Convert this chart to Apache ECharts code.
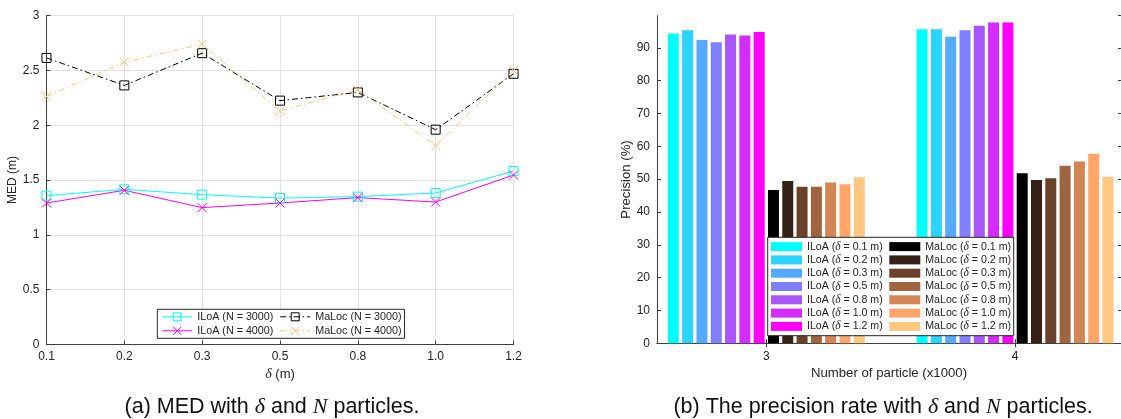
<!DOCTYPE html>
<html><head><meta charset="utf-8">
<script src="https://cdn.jsdelivr.net/npm/echarts@6/dist/echarts.min.js"></script>
<style>html,body{margin:0;padding:0;background:#fff}#c{width:1121px;height:419px}</style>
</head><body><div id="c"></div>
<script>
// ---- Data: (a) MED vs delta ----
const deltaLabels = ['0.1', '0.2', '0.3', '0.5', '0.8', '1.0', '1.2'];
const iloaMed3000 = [1.358, 1.416, 1.367, 1.336, 1.349, 1.382, 1.583];
const iloaMed4000 = [1.291, 1.407, 1.249, 1.291, 1.340, 1.300, 1.546];
const malocMed3000 = [2.615, 2.364, 2.658, 2.225, 2.300, 1.960, 2.470];
const malocMed4000 = [2.264, 2.576, 2.740, 2.130, 2.325, 1.815, 2.500];

// ---- Data: (b) precision vs number of particles ----
const particleCounts = [3, 4]; // x1000
const iloaPrec3000 = [94.4, 95.4, 92.4, 91.7, 94.1, 93.8, 94.8];
const iloaPrec4000 = [95.7, 95.7, 93.4, 95.4, 96.7, 97.7, 97.7];
const malocPrec3000 = [46.7, 49.4, 47.7, 47.7, 49.0, 48.4, 50.6];
const malocPrec4000 = [51.8, 49.7, 50.3, 54.1, 55.4, 57.7, 50.7];

const coolColors = ['#00FFFF', '#2AD4FF', '#55AAFF', '#8080FF', '#AA55FF', '#D42BFF', '#FF00FF'];
const copperColors = ['#000000', '#352115', '#6A422A', '#9F643F', '#D48555', '#FFA66A', '#FFC77F'];

const FONT = "'Liberation Sans', Arial, Helvetica, sans-serif";
const SERIF = "'Liberation Serif', 'DejaVu Serif', serif";
const TXT = '#262626';
const AX = '#404040';
const GRIDC = '#e2e2e2';

const chart = echarts.init(document.getElementById('c'), null, {renderer: 'canvas'});

const squarePath = 'path://M0,0L10,0L10,10L0,10Z';
const crossPath = 'path://M0,0L10,10M10,0L0,10';
const dashDot = [6, 3, 1.5, 3];

function lineSeries(name, data, color, symbol, dash) {
  return {
    type: 'line', name, data, xAxisIndex: 0, yAxisIndex: 0,
    symbol, symbolSize: 9, showAllSymbol: true,
    itemStyle: {color: 'rgba(0,0,0,0)', borderColor: color, borderWidth: 1},
    lineStyle: {color, width: 1, type: dash ? dashDot : 'solid'},
    emphasis: {disabled: true}, animation: false, z: 3
  };
}

const series = [
  lineSeries('ILoA (N = 3000)', iloaMed3000, '#00FFFF', squarePath, false),
  lineSeries('ILoA (N = 4000)', iloaMed4000, '#FF00FF', crossPath, false),
  lineSeries('MaLoc (N = 3000)', malocMed3000, '#000000', squarePath, true),
  lineSeries('MaLoc (N = 4000)', malocMed4000, '#FFC77F', crossPath, true)
];

const iloaNames = deltaLabels.map(d => 'ILoA (δ = ' + d + ' m)');
const malocNames = deltaLabels.map(d => 'MaLoc (δ = ' + d + ' m)');
deltaLabels.forEach((d, i) => {
  series.push({
    type: 'bar', name: iloaNames[i], xAxisIndex: 1, yAxisIndex: 1,
    data: particleCounts.map((p, j) => [p, [iloaPrec3000, iloaPrec4000][j][i]]),
    barWidth: 11, barGap: '30%', itemStyle: {color: coolColors[i]},
    emphasis: {disabled: true}, animation: false
  });
});
deltaLabels.forEach((d, i) => {
  series.push({
    type: 'bar', name: malocNames[i], xAxisIndex: 1, yAxisIndex: 1,
    data: particleCounts.map((p, j) => [p, [malocPrec3000, malocPrec4000][j][i]]),
    barWidth: 11, barGap: '30%', itemStyle: {color: copperColors[i]},
    emphasis: {disabled: true}, animation: false
  });
});

const legendText = {fontFamily: FONT, fontSize: 10.6, color: TXT, lineHeight: 12,
  rich: {i: {fontFamily: SERIF, fontStyle: 'italic', fontSize: 11.5, color: TXT, lineHeight: 12}}};
const deltaFmt = n => n.replace('δ', '{i|δ}');
const lineLegendStyle = {
  itemWidth: 30, itemHeight: 10, itemGap: 6.3, selectedMode: false, orient: 'horizontal',
  lineStyle: {width: 1}, itemStyle: {borderWidth: 1},
  textStyle: {fontFamily: FONT, fontSize: 10.75, color: TXT, lineHeight: 12}
};

const legends = [
  Object.assign({data: ['ILoA (N = 3000)', 'MaLoc (N = 3000)'], left: 157.3, top: 309.3,
   padding: [1.5, 3, 15.5, 4.4], borderColor: TXT, borderWidth: 1, backgroundColor: '#fff', z: 6}, lineLegendStyle),
  Object.assign({data: ['ILoA (N = 4000)', 'MaLoc (N = 4000)'], left: 161.7, top: 324.8,
   padding: 0, z: 7}, lineLegendStyle),
  {data: iloaNames, left: 767.7, top: 237.3, orient: 'vertical', icon: 'rect',
   itemWidth: 31, itemHeight: 9, itemGap: 1.3, padding: [3.3, 131, 3.3, 3.3],
   borderColor: TXT, borderWidth: 1, backgroundColor: '#fff', selectedMode: false,
   formatter: deltaFmt, textStyle: legendText, z: 6},
  {data: malocNames, left: 889.3, top: 240.6, orient: 'vertical', icon: 'rect',
   itemWidth: 31, itemHeight: 9, itemGap: 1.3, padding: 0, selectedMode: false,
   formatter: deltaFmt, textStyle: legendText, z: 7}
];

const option = {
  backgroundColor: '#fff',
  animation: false,
  textStyle: {fontFamily: FONT},
  grid: [
    {left: 46.5, right: 607.5, top: 15.7, bottom: 74.5, containLabel: false},
    {left: 657, right: 0, top: 15.7, bottom: 75.8, containLabel: false}
  ],
  legend: legends,
  xAxis: [
    {type: 'category', gridIndex: 0, data: deltaLabels, boundaryGap: false,
     axisLine: {show: true, lineStyle: {color: AX, width: 1}},
     axisTick: {show: true, inside: true, length: 4, lineStyle: {color: AX}},
     axisLabel: {fontSize: 12, color: TXT, margin: 6, fontFamily: FONT},
     splitLine: {show: true, lineStyle: {color: GRIDC, width: 1}},
     name: '{i|δ} (m)', nameLocation: 'middle', nameGap: 21,
     nameTextStyle: {fontSize: 13, color: TXT, fontFamily: FONT, rich: {i: {fontFamily: SERIF, fontStyle: 'italic', fontSize: 14, color: TXT}}}},
    {type: 'value', gridIndex: 1, min: 2.5605, max: 4.426, position: 'bottom',
     axisLine: {show: true, lineStyle: {color: AX, width: 1}},
     axisTick: {show: true, inside: true, length: 4, customValues: particleCounts, lineStyle: {color: AX}},
     axisLabel: {fontSize: 12, color: TXT, margin: 7, customValues: particleCounts, fontFamily: FONT},
     splitLine: {show: false},
     name: 'Number of particle (x1000)', nameLocation: 'middle', nameGap: 23,
     nameTextStyle: {fontSize: 13.2, color: TXT, fontFamily: FONT}},
    {type: 'value', gridIndex: 1, min: 2.5605, max: 4.426, position: 'top',
     axisLine: {show: true, lineStyle: {color: AX, width: 1}},
     axisTick: {show: true, inside: true, length: 4, customValues: particleCounts, lineStyle: {color: AX}},
     axisLabel: {show: false}, splitLine: {show: false}}
  ],
  yAxis: [
    {type: 'value', gridIndex: 0, min: 0, max: 3, interval: 0.5,
     axisLine: {show: true, lineStyle: {color: AX, width: 1}},
     axisTick: {show: true, inside: true, length: 4, lineStyle: {color: AX}},
     axisLabel: {fontSize: 12, color: TXT, margin: 7, fontFamily: FONT},
     splitLine: {show: true, lineStyle: {color: GRIDC, width: 1}},
     name: 'MED (m)', nameLocation: 'middle', nameRotate: 90, nameGap: 25,
     nameTextStyle: {fontSize: 12, color: TXT, fontFamily: FONT}},
    {type: 'value', gridIndex: 1, min: 0, max: 99.8, interval: 10,
     axisLine: {show: true, lineStyle: {color: AX, width: 1}},
     axisTick: {show: true, inside: true, length: 4, lineStyle: {color: AX}},
     axisLabel: {fontSize: 12, color: TXT, margin: 7, fontFamily: FONT, showMaxLabel: false,
       formatter: v => (Math.abs(v % 10) < 1e-6 ? String(v) : '')},
     splitLine: {show: false},
     name: 'Precision (%)', nameLocation: 'middle', nameRotate: 90, nameGap: 22,
     nameTextStyle: {fontSize: 13.2, color: TXT, fontFamily: FONT}},
    {type: 'value', gridIndex: 1, min: 0, max: 99.8, interval: 10, position: 'right',
     axisLine: {show: true, lineStyle: {color: AX, width: 1}},
     axisTick: {show: true, inside: true, length: 3, lineStyle: {color: AX}},
     axisLabel: {show: false}, splitLine: {show: false}}
  ],
  graphic: [
    {type: 'text', x: 272, y: 407, z: 10,
     style: {text: '(a) MED with {i|δ} and {i|N} particles.', align: 'center', verticalAlign: 'middle',
       fontFamily: FONT, fontSize: 21.5, fill: '#111',
       rich: {i: {fontFamily: SERIF, fontStyle: 'italic', fontSize: 22, fill: '#111'}}}},
    {type: 'text', x: 883, y: 407, z: 10,
     style: {text: '(b) The precision rate with {i|δ} and {i|N} particles.', align: 'center', verticalAlign: 'middle',
       fontFamily: FONT, fontSize: 21.5, fill: '#111',
       rich: {i: {fontFamily: SERIF, fontStyle: 'italic', fontSize: 22, fill: '#111'}}}}
  ],
  series
};
chart.setOption(option);
</script>
</body></html>
